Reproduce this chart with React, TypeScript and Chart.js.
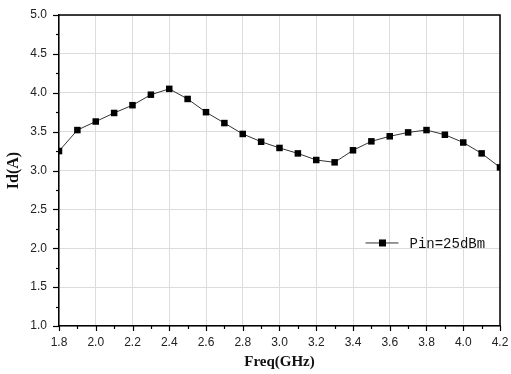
import React, { useEffect, useRef } from "react";
import { Chart, registerables } from "chart.js";

Chart.register(...registerables);

const freqGHz = [1.8, 1.9, 2.0, 2.1, 2.2, 2.3, 2.4, 2.5, 2.6, 2.7, 2.8, 2.9, 3.0, 3.1, 3.2, 3.3, 3.4, 3.5, 3.6, 3.7, 3.8, 3.9, 4.0, 4.1, 4.2];
const idAmps = [3.25, 3.52, 3.63, 3.74, 3.84, 3.975, 4.05, 3.92, 3.75, 3.61, 3.47, 3.37, 3.29, 3.22, 3.135, 3.105, 3.26, 3.375, 3.44, 3.49, 3.52, 3.46, 3.36, 3.22, 3.04];
const seriesLabel = "Pin=25dBm";
const xTitle = "Freq(GHz)";
const yTitle = "Id(A)";
const xRange = [1.8, 4.2];
const yRange = [1.0, 5.0];
const xMajorStep = 0.2;
const xMinorStep = 0.1;
const yMajorStep = 0.5;
const yMinorStep = 0.25;

const framePlugin = {
  id: "framePlugin",
  afterDraw(chart: any) {
    const { ctx, chartArea } = chart;
    const { left, right, top, bottom } = chartArea;
    const xs = chart.scales.x;
    const ys = chart.scales.y;
    ctx.save();
    ctx.strokeStyle = "#000";
    ctx.lineWidth = 1.5;
    ctx.beginPath();
    ctx.moveTo(left, top);
    ctx.lineTo(right, top);
    ctx.lineTo(right, bottom);
    ctx.stroke();
    ctx.lineWidth = 1.2;
    const nx = Math.round((xRange[1] - xRange[0]) / xMinorStep);
    for (let i = 0; i <= nx; i++) {
      const v = xRange[0] + i * xMinorStep;
      const px = Math.round(xs.getPixelForValue(v)) + 0.5;
      const len = i % 2 === 0 ? 5 : 3;
      ctx.beginPath();
      ctx.moveTo(px, bottom);
      ctx.lineTo(px, bottom + len);
      ctx.stroke();
    }
    const ny = Math.round((yRange[1] - yRange[0]) / yMinorStep);
    for (let i = 0; i <= ny; i++) {
      const v = yRange[0] + i * yMinorStep;
      const py = Math.round(ys.getPixelForValue(v)) + 0.5;
      const len = i % 2 === 0 ? 6 : 3;
      ctx.beginPath();
      ctx.moveTo(left, py);
      ctx.lineTo(left - len, py);
      ctx.stroke();
    }
    const ds = chart.data.datasets[0];
    const lx = left + (right - left) * 0.695;
    const ly = top + (bottom - top) * 0.733;
    ctx.strokeStyle = ds.borderColor;
    ctx.lineWidth = 1;
    ctx.beginPath();
    ctx.moveTo(lx, ly);
    ctx.lineTo(lx + 33, ly);
    ctx.stroke();
    ctx.fillStyle = "#000";
    ctx.fillRect(lx + 17 - 3.5, ly - 3.5, 7, 7);
    ctx.font = "14px 'Liberation Mono'";
    ctx.textBaseline = "middle";
    ctx.textAlign = "left";
    ctx.fillStyle = "#111";
    ctx.fillText(ds.label, lx + 44, ly + 1);
    ctx.restore();
  },
};

export default function App() {
  const ref = useRef<HTMLCanvasElement | null>(null);
  useEffect(() => {
    document.body.style.margin = "0";
    const canvas = ref.current;
    if (!canvas) return;
    const chart = new Chart(canvas, {
      type: "line",
      data: {
        datasets: [
          {
            label: seriesLabel,
            data: freqGHz.map((f, i) => ({ x: f, y: idAmps[i] })),
            borderColor: "#333",
            borderWidth: 1,
            backgroundColor: "#000",
            pointBackgroundColor: "#000",
            pointBorderColor: "#000",
            pointBorderWidth: 0,
            pointStyle: "rect",
            pointRadius: 4.6,
            tension: 0,
          },
        ],
      },
      options: {
        animation: false,
        responsive: true,
        maintainAspectRatio: false,
        layout: { padding: { top: 15, right: 11, left: 0, bottom: 0 } },
        plugins: { legend: { display: false }, tooltip: { enabled: false } },
        scales: {
          x: {
            type: "linear",
            min: xRange[0],
            max: xRange[1],
            afterFit: (s: any) => { s.height = 48; s.paddingLeft = 0; s.paddingRight = 0; },
            ticks: {
              stepSize: xMajorStep,
              autoSkip: false,
              maxRotation: 0,
              padding: 9,
              color: "#222",
              font: { family: "'Liberation Sans'", size: 12 },
              callback: (v: any) => Number(v).toFixed(1),
            },
            grid: { color: "#dcdcdc", lineWidth: 1, drawTicks: false },
            border: { display: true, color: "#000", width: 1.5 },
            title: {
              display: true,
              text: xTitle,
              color: "#111",
              font: { family: "'Liberation Serif'", size: 15, weight: "bold" },
              padding: { top: 0, bottom: 3 },
            },
          },
          y: {
            type: "linear",
            min: yRange[0],
            max: yRange[1],
            afterFit: (s: any) => { s.width = 59; s.paddingTop = 0; s.paddingBottom = 0; },
            ticks: {
              stepSize: yMajorStep,
              autoSkip: false,
              padding: 12,
              color: "#222",
              font: { family: "'Liberation Sans'", size: 12 },
              callback: (v: any) => Number(v).toFixed(1),
            },
            grid: { color: "#dcdcdc", lineWidth: 1, drawTicks: false },
            border: { display: true, color: "#000", width: 1.5 },
            title: {
              display: true,
              text: yTitle,
              color: "#111",
              font: { family: "'Liberation Serif'", size: 16, weight: "bold" },
              padding: { top: 4, bottom: 0 },
            },
          },
        },
      },
      plugins: [framePlugin],
    });
    return () => chart.destroy();
  }, []);
  return (
    <div style={{ width: 511, height: 374, position: "relative", background: "#fff" }}>
      <canvas ref={ref} />
    </div>
  );
}
